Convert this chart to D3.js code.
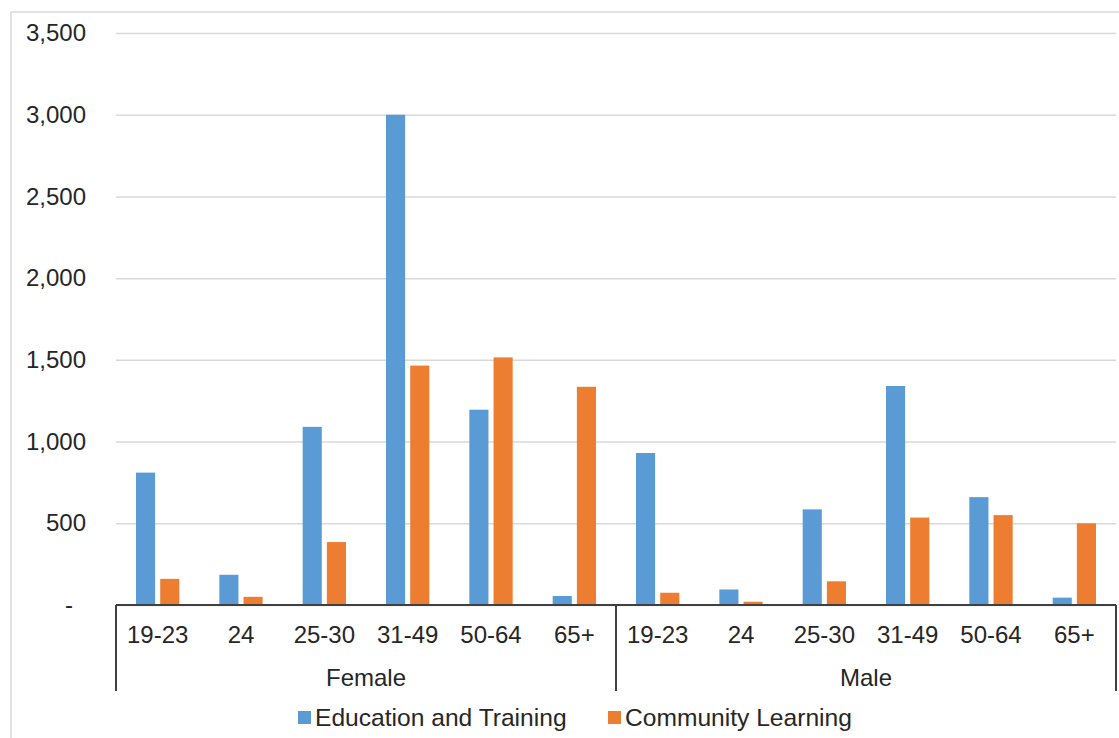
<!DOCTYPE html>
<html>
<head>
<meta charset="utf-8">
<script src="https://cdn.jsdelivr.net/npm/d3@7"></script>
<style>
  html, body { margin: 0; padding: 0; background: #fff; }
  svg { display: block; }
  text { font-family: "Liberation Sans", Arial, sans-serif; fill: #262626; }
</style>
</head>
<body>
<svg id="chart" width="1119" height="738"></svg>
<script>
const groups = ["Female", "Male"];
const ageBands = ["19-23", "24", "25-30", "31-49", "50-64", "65+"];
const seriesNames = ["Education and Training", "Community Learning"];
const seriesColors = ["#5B9BD5", "#ED7D31"];
const educationTraining = [810, 185, 1090, 3000, 1195, 55, 930, 95, 585, 1340, 660, 45];
const communityLearning = [160, 50, 385, 1465, 1515, 1335, 75, 20, 145, 535, 550, 500];
const yTicks = [0, 500, 1000, 1500, 2000, 2500, 3000, 3500];

(function () {
const svg = d3.select("#chart");
const W = 1119, H = 738;
const pLeft = 116, pRight = 1116, pTop = 33, pBottom = 605;
const fs = 24;

// chart border
svg.append("rect").attr("x", 11).attr("y", 12).attr("width", W + 20).attr("height", H + 20)
  .attr("fill", "#fff").attr("stroke", "#d9d9d9").attr("stroke-width", 1.5);

const cats = [];
groups.forEach(g => ageBands.forEach(a => cats.push(g + "|" + a)));

const x = d3.scaleBand().domain(cats).range([pLeft, pRight]).paddingInner(0).paddingOuter(0);
const bw = x.bandwidth();
const x1 = d3.scaleBand().domain(seriesNames).range([20, bw - 20]).paddingInner(0.21).paddingOuter(0);
const y = d3.scaleLinear().domain([0, 3500]).range([pBottom, pTop]);

// y axis with gridlines
const yAxis = d3.axisLeft(y).tickValues(yTicks)
  .tickSize(-(pRight - pLeft)).tickPadding(30)
  .tickFormat(d => d === 0 ? "-" : d3.format(",")(d));
const gy = svg.append("g").attr("transform", `translate(${pLeft},0)`).call(yAxis);
gy.select(".domain").remove();
gy.selectAll(".tick line").attr("stroke", "#d9d9d9").attr("stroke-width", 1.5);
gy.selectAll(".tick text").attr("font-size", fs).attr("fill", "#262626")
  .attr("font-family", "Liberation Sans, Arial, sans-serif")
  .attr("dx", d => d === 0 ? -13 : 0);

// bars
const data = cats.map((c, i) => ({ cat: c, values: [educationTraining[i], communityLearning[i]] }));
const cg = svg.append("g").selectAll("g").data(data).join("g")
  .attr("transform", d => `translate(${x(d.cat)},0)`);
cg.selectAll("rect").data(d => d.values.map((v, j) => ({ name: seriesNames[j], v, j })))
  .join("rect")
  .attr("x", d => x1(d.name))
  .attr("width", x1.bandwidth())
  .attr("y", d => y(d.v))
  .attr("height", d => y(0) - y(d.v))
  .attr("fill", d => seriesColors[d.j]);

// x axis baseline
const xAxis = d3.axisBottom(x).tickSize(0).tickPadding(0).tickFormat(d => d.split("|")[1]);
const gx = svg.append("g").attr("transform", `translate(0,${pBottom})`).call(xAxis);
gx.select(".domain").attr("stroke", "#404040").attr("stroke-width", 2)
  .attr("d", `M${pLeft},0H${pRight}`);
gx.selectAll(".tick text").attr("font-size", fs).attr("fill", "#262626")
  .attr("font-family", "Liberation Sans, Arial, sans-serif")
  .attr("dy", 0).attr("y", 38);

// group dividers
const groupEdges = [pLeft];
groups.forEach(g => groupEdges.push(x(g + "|" + ageBands[ageBands.length - 1]) + bw));
svg.append("g").selectAll("line").data(groupEdges).join("line")
  .attr("x1", d => d).attr("x2", d => d)
  .attr("y1", pBottom).attr("y2", 691)
  .attr("stroke", "#404040").attr("stroke-width", 2);

// group labels
svg.append("g").selectAll("text").data(groups).join("text")
  .attr("x", g => (x(g + "|" + ageBands[0]) + x(g + "|" + ageBands[ageBands.length - 1]) + bw) / 2)
  .attr("y", 686)
  .attr("text-anchor", "middle").attr("font-size", fs)
  .text(g => g);

// legend
const legendX = [298, 608];
const lg = svg.append("g").selectAll("g").data(seriesNames).join("g")
  .attr("transform", (d, i) => `translate(${legendX[i]},711)`);
lg.append("rect").attr("width", 13).attr("height", 13).attr("fill", (d, i) => seriesColors[i]);
lg.append("text").attr("x", 17).attr("y", 15).attr("font-size", 24.6).text(d => d);
})();
</script>
</body>
</html>
